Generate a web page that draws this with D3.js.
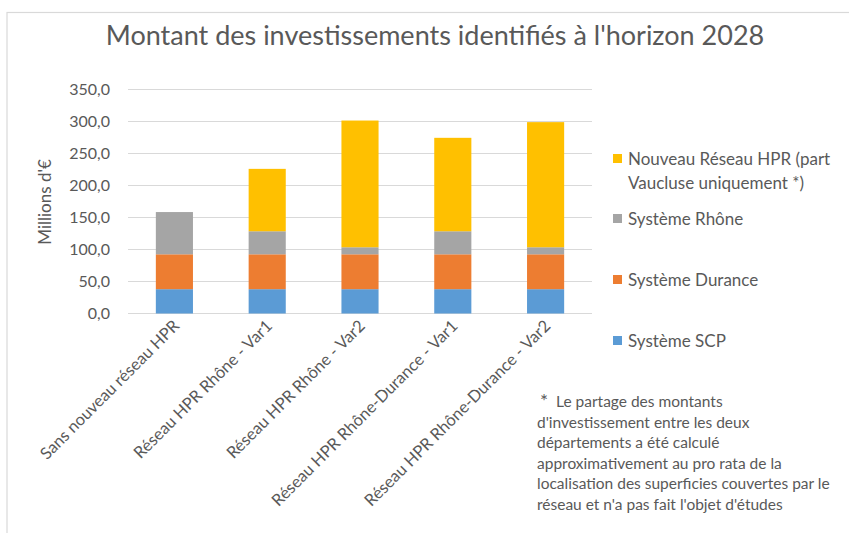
<!DOCTYPE html>
<html>
<head>
<meta charset="utf-8">
<script src="https://cdn.jsdelivr.net/npm/d3@7"></script>
<style>
  body { margin: 0; background: #fff; }
  text { font-family: Lato, "Open Sans", sans-serif; fill: #595959; }
</style>
</head>
<body>
<div id="chart"></div>
<script>
// categories and stacked values (millions d'€)
const categories = [
  "Sans nouveau réseau HPR",
  "Réseau HPR Rhône - Var1",
  "Réseau HPR Rhône - Var2",
  "Réseau HPR Rhône-Durance - Var1",
  "Réseau HPR Rhône-Durance - Var2"
];
const systemeSCP = [38, 38, 38, 38, 38];
const systemeDurance = [54.5, 54.5, 54.5, 54.5, 54.5];
const systemeRhone = [66, 36, 11, 36, 11];
const nouveauHPR = [0, 97.5, 198, 146, 195.5];
const yTicks = [0, 50, 100, 150, 200, 250, 300, 350];

const seriesNames = ["Système SCP", "Système Durance", "Système Rhône", "Nouveau Réseau HPR"];
const seriesColors = ["#5b9bd5", "#ed7d31", "#a5a5a5", "#ffc000"];
const seriesValues = [systemeSCP, systemeDurance, systemeRhone, nouveauHPR];

const W = 849, H = 533;
const plot = {left: 128, right: 592, top: 89.5, bottom: 313.5};

const svg = d3.select("#chart").append("svg")
  .attr("width", W)
  .attr("height", H);

// chart border (runs past the window on right/bottom)
svg.append("rect")
  .attr("x", 7).attr("y", 12.5)
  .attr("width", 900).attr("height", 600)
  .attr("fill", "none")
  .attr("stroke", "#d9d9d9")
  .attr("stroke-width", 1.2);

svg.append("text")
  .attr("x", 435).attr("y", 45)
  .attr("text-anchor", "middle")
  .style("font-size", "27px")
  .text("Montant des investissements identifiés à l'horizon 2028");

const x = d3.scaleBand()
  .domain(categories)
  .range([plot.left, plot.right])
  .paddingInner(0.6)
  .paddingOuter(0.3);

const y = d3.scaleLinear()
  .domain([0, 350])
  .range([plot.bottom, plot.top]);

// gridlines
svg.append("g")
  .selectAll("line")
  .data(yTicks)
  .enter()
  .append("line")
  .attr("x1", plot.left).attr("x2", plot.right)
  .attr("y1", d => y(d)).attr("y2", d => y(d))
  .attr("stroke", "#d9d9d9")
  .attr("stroke-width", 1);

// y axis labels
const yAxis = svg.append("g")
  .attr("transform", "translate(" + plot.left + ",0)")
  .call(d3.axisLeft(y).tickValues(yTicks).tickSize(0).tickPadding(18)
    .tickFormat(d => d3.format(".1f")(d).replace(".", ",")));
yAxis.select(".domain").remove();
yAxis.selectAll("text")
  .style("font-size", "16px")
  .style("font-family", "Lato, sans-serif")
  .attr("fill", "#595959");

svg.append("text")
  .attr("transform", "translate(51,202) rotate(-90)")
  .attr("text-anchor", "middle")
  .style("font-size", "17px")
  .text("Millions d'€");

// stacked bars
const rows = categories.map((c, i) => {
  const r = {cat: c};
  seriesNames.forEach((s, j) => { r[s] = seriesValues[j][i]; });
  return r;
});
const stack = d3.stack().keys(seriesNames)(rows);

svg.append("g")
  .selectAll("g")
  .data(stack)
  .enter()
  .append("g")
  .attr("fill", (d, i) => seriesColors[i])
  .selectAll("rect")
  .data(d => d.filter(p => p[1] - p[0] > 0))
  .enter()
  .append("rect")
  .attr("x", d => x(d.data.cat))
  .attr("width", x.bandwidth())
  .attr("y", d => y(d[1]))
  .attr("height", d => y(d[0]) - y(d[1]));

// category labels, rotated
svg.append("g")
  .selectAll("text")
  .data(categories)
  .enter()
  .append("text")
  .attr("transform", d => "translate(" + (x(d) + x.bandwidth() / 2 + 6) + ",327) rotate(-45)")
  .attr("text-anchor", "end")
  .style("font-size", "16.5px")
  .text(d => d);

// legend (top to bottom: HPR, Rhône, Durance, SCP)
const legendItems = [
  {lines: ["Nouveau Réseau HPR (part", "Vaucluse uniquement *)"], color: seriesColors[3], y: 159},
  {lines: ["Système Rhône"], color: seriesColors[2], y: 219},
  {lines: ["Système Durance"], color: seriesColors[1], y: 280},
  {lines: ["Système SCP"], color: seriesColors[0], y: 341}
];
const legend = svg.append("g");
legendItems.forEach(item => {
  legend.append("rect")
    .attr("x", 613).attr("y", item.y - 5)
    .attr("width", 9).attr("height", 9)
    .attr("fill", item.color);
  const t = legend.append("text")
    .attr("x", 628).attr("y", item.y + 6)
    .style("font-size", "17px");
  item.lines.forEach((l, k) => {
    t.append("tspan").attr("x", 628).attr("dy", k === 0 ? 0 : 24).text(l);
  });
});

// footnote
const note = [
  "Le partage des montants",
  "d'investissement entre les deux",
  "départements a été calculé",
  "approximativement au pro rata de la",
  "localisation des superficies couvertes par le",
  "réseau et n'a pas fait l'objet d'études"
];
svg.append("text")
  .attr("x", 540).attr("y", 408)
  .style("font-size", "19px")
  .text("*");
svg.append("g")
  .selectAll("text")
  .data(note)
  .enter()
  .append("text")
  .attr("x", (d, i) => i === 0 ? 556 : 537)
  .attr("y", (d, i) => 407 + i * 20.6)
  .style("font-size", "15.5px")
  .text(d => d);
</script>
</body>
</html>
